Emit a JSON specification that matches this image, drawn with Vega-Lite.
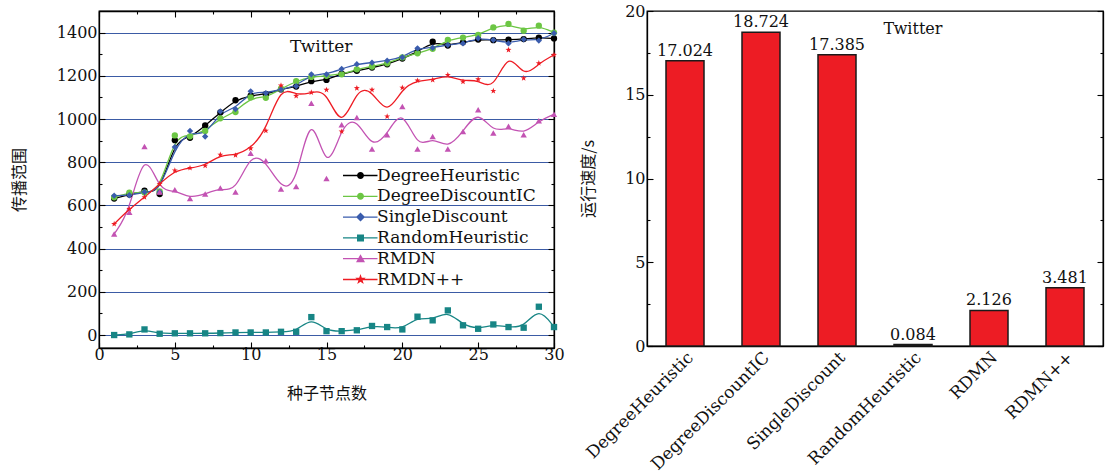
{
 "$schema": "https://vega.github.io/schema/vega-lite/v6.json",
 "padding": {"left": 10, "top": 2, "right": 5, "bottom": 2},
 "config": {
  "font": "DejaVu Serif",
  "view": {"stroke": "#000", "strokeWidth": 1.3},
  "axis": {"labelFont": "DejaVu Serif", "labelFontSize": 16, "labelColor": "#111", "domainColor": "#000", "domainWidth": 1.3, "tickColor": "#000", "tickWidth": 1.1, "titleFont": "Noto Sans CJK SC", "titleFontSize": 16, "titleFontWeight": "normal", "titleColor": "#111", "labelFlush": false},
  "concat": {"spacing": 14}
 },
 "datasets": {
  "lines": [
{"k":1,"s":"DegreeHeuristic","v":632},{"k":2,"s":"DegreeHeuristic","v":650},{"k":3,"s":"DegreeHeuristic","v":668},{"k":4,"s":"DegreeHeuristic","v":653},{"k":5,"s":"DegreeHeuristic","v":902},{"k":6,"s":"DegreeHeuristic","v":913},{"k":7,"s":"DegreeHeuristic","v":970},{"k":8,"s":"DegreeHeuristic","v":1030},{"k":9,"s":"DegreeHeuristic","v":1087},{"k":10,"s":"DegreeHeuristic","v":1108},{"k":11,"s":"DegreeHeuristic","v":1115},{"k":12,"s":"DegreeHeuristic","v":1137},{"k":13,"s":"DegreeHeuristic","v":1150},{"k":14,"s":"DegreeHeuristic","v":1175},{"k":15,"s":"DegreeHeuristic","v":1181},{"k":16,"s":"DegreeHeuristic","v":1210},{"k":17,"s":"DegreeHeuristic","v":1223},{"k":18,"s":"DegreeHeuristic","v":1238},{"k":19,"s":"DegreeHeuristic","v":1253},{"k":20,"s":"DegreeHeuristic","v":1280},{"k":21,"s":"DegreeHeuristic","v":1310},{"k":22,"s":"DegreeHeuristic","v":1358},{"k":23,"s":"DegreeHeuristic","v":1340},{"k":24,"s":"DegreeHeuristic","v":1355},{"k":25,"s":"DegreeHeuristic","v":1368},{"k":26,"s":"DegreeHeuristic","v":1365},{"k":27,"s":"DegreeHeuristic","v":1367},{"k":28,"s":"DegreeHeuristic","v":1370},{"k":29,"s":"DegreeHeuristic","v":1377},{"k":30,"s":"DegreeHeuristic","v":1373},
{"k":1,"s":"DegreeDiscountIC","v":638},{"k":2,"s":"DegreeDiscountIC","v":659},{"k":3,"s":"DegreeDiscountIC","v":660},{"k":4,"s":"DegreeDiscountIC","v":665},{"k":5,"s":"DegreeDiscountIC","v":924},{"k":6,"s":"DegreeDiscountIC","v":920},{"k":7,"s":"DegreeDiscountIC","v":945},{"k":8,"s":"DegreeDiscountIC","v":1003},{"k":9,"s":"DegreeDiscountIC","v":1032},{"k":10,"s":"DegreeDiscountIC","v":1100},{"k":11,"s":"DegreeDiscountIC","v":1098},{"k":12,"s":"DegreeDiscountIC","v":1140},{"k":13,"s":"DegreeDiscountIC","v":1175},{"k":14,"s":"DegreeDiscountIC","v":1195},{"k":15,"s":"DegreeDiscountIC","v":1200},{"k":16,"s":"DegreeDiscountIC","v":1207},{"k":17,"s":"DegreeDiscountIC","v":1230},{"k":18,"s":"DegreeDiscountIC","v":1243},{"k":19,"s":"DegreeDiscountIC","v":1258},{"k":20,"s":"DegreeDiscountIC","v":1285},{"k":21,"s":"DegreeDiscountIC","v":1304},{"k":22,"s":"DegreeDiscountIC","v":1325},{"k":23,"s":"DegreeDiscountIC","v":1366},{"k":24,"s":"DegreeDiscountIC","v":1377},{"k":25,"s":"DegreeDiscountIC","v":1389},{"k":26,"s":"DegreeDiscountIC","v":1424},{"k":27,"s":"DegreeDiscountIC","v":1440},{"k":28,"s":"DegreeDiscountIC","v":1409},{"k":29,"s":"DegreeDiscountIC","v":1432},{"k":30,"s":"DegreeDiscountIC","v":1400},
{"k":1,"s":"SingleDiscount","v":645},{"k":2,"s":"SingleDiscount","v":647},{"k":3,"s":"SingleDiscount","v":662},{"k":4,"s":"SingleDiscount","v":662},{"k":5,"s":"SingleDiscount","v":870},{"k":6,"s":"SingleDiscount","v":945},{"k":7,"s":"SingleDiscount","v":919},{"k":8,"s":"SingleDiscount","v":1035},{"k":9,"s":"SingleDiscount","v":1046},{"k":10,"s":"SingleDiscount","v":1128},{"k":11,"s":"SingleDiscount","v":1120},{"k":12,"s":"SingleDiscount","v":1137},{"k":13,"s":"SingleDiscount","v":1152},{"k":14,"s":"SingleDiscount","v":1207},{"k":15,"s":"SingleDiscount","v":1207},{"k":16,"s":"SingleDiscount","v":1232},{"k":17,"s":"SingleDiscount","v":1254},{"k":18,"s":"SingleDiscount","v":1261},{"k":19,"s":"SingleDiscount","v":1270},{"k":20,"s":"SingleDiscount","v":1286},{"k":21,"s":"SingleDiscount","v":1327},{"k":22,"s":"SingleDiscount","v":1330},{"k":23,"s":"SingleDiscount","v":1343},{"k":24,"s":"SingleDiscount","v":1350},{"k":25,"s":"SingleDiscount","v":1374},{"k":26,"s":"SingleDiscount","v":1366},{"k":27,"s":"SingleDiscount","v":1350},{"k":28,"s":"SingleDiscount","v":1369},{"k":29,"s":"SingleDiscount","v":1363},{"k":30,"s":"SingleDiscount","v":1397},
{"k":1,"s":"RandomHeuristic","v":0},{"k":2,"s":"RandomHeuristic","v":3},{"k":3,"s":"RandomHeuristic","v":26},{"k":4,"s":"RandomHeuristic","v":6},{"k":5,"s":"RandomHeuristic","v":8},{"k":6,"s":"RandomHeuristic","v":8},{"k":7,"s":"RandomHeuristic","v":8},{"k":8,"s":"RandomHeuristic","v":9},{"k":9,"s":"RandomHeuristic","v":12},{"k":10,"s":"RandomHeuristic","v":12},{"k":11,"s":"RandomHeuristic","v":12},{"k":12,"s":"RandomHeuristic","v":15},{"k":13,"s":"RandomHeuristic","v":15},{"k":14,"s":"RandomHeuristic","v":83},{"k":15,"s":"RandomHeuristic","v":18},{"k":16,"s":"RandomHeuristic","v":18},{"k":17,"s":"RandomHeuristic","v":22},{"k":18,"s":"RandomHeuristic","v":42},{"k":19,"s":"RandomHeuristic","v":37},{"k":20,"s":"RandomHeuristic","v":26},{"k":21,"s":"RandomHeuristic","v":85},{"k":22,"s":"RandomHeuristic","v":68},{"k":23,"s":"RandomHeuristic","v":114},{"k":24,"s":"RandomHeuristic","v":45},{"k":25,"s":"RandomHeuristic","v":29},{"k":26,"s":"RandomHeuristic","v":49},{"k":27,"s":"RandomHeuristic","v":37},{"k":28,"s":"RandomHeuristic","v":34},{"k":29,"s":"RandomHeuristic","v":131},{"k":30,"s":"RandomHeuristic","v":37},
{"k":1,"s":"RMDN","v":468},{"k":2,"s":"RMDN","v":568},{"k":3,"s":"RMDN","v":873},{"k":4,"s":"RMDN","v":662},{"k":5,"s":"RMDN","v":673},{"k":6,"s":"RMDN","v":632},{"k":7,"s":"RMDN","v":653},{"k":8,"s":"RMDN","v":681},{"k":9,"s":"RMDN","v":662},{"k":10,"s":"RMDN","v":842},{"k":11,"s":"RMDN","v":807},{"k":12,"s":"RMDN","v":676},{"k":13,"s":"RMDN","v":688},{"k":14,"s":"RMDN","v":1073},{"k":15,"s":"RMDN","v":725},{"k":16,"s":"RMDN","v":973},{"k":17,"s":"RMDN","v":1007},{"k":18,"s":"RMDN","v":861},{"k":19,"s":"RMDN","v":927},{"k":20,"s":"RMDN","v":1058},{"k":21,"s":"RMDN","v":861},{"k":22,"s":"RMDN","v":919},{"k":23,"s":"RMDN","v":861},{"k":24,"s":"RMDN","v":942},{"k":25,"s":"RMDN","v":1043},{"k":26,"s":"RMDN","v":935},{"k":27,"s":"RMDN","v":966},{"k":28,"s":"RMDN","v":927},{"k":29,"s":"RMDN","v":992},{"k":30,"s":"RMDN","v":1022},
{"k":1,"s":"RMDN++","v":514},{"k":2,"s":"RMDN++","v":583},{"k":3,"s":"RMDN++","v":638},{"k":4,"s":"RMDN++","v":699},{"k":5,"s":"RMDN++","v":762},{"k":6,"s":"RMDN++","v":773},{"k":7,"s":"RMDN++","v":784},{"k":8,"s":"RMDN++","v":835},{"k":9,"s":"RMDN++","v":832},{"k":10,"s":"RMDN++","v":864},{"k":11,"s":"RMDN++","v":946},{"k":12,"s":"RMDN++","v":1155},{"k":13,"s":"RMDN++","v":1107},{"k":14,"s":"RMDN++","v":1123},{"k":15,"s":"RMDN++","v":1135},{"k":16,"s":"RMDN++","v":942},{"k":17,"s":"RMDN++","v":1143},{"k":18,"s":"RMDN++","v":1135},{"k":19,"s":"RMDN++","v":1012},{"k":20,"s":"RMDN++","v":1145},{"k":21,"s":"RMDN++","v":1178},{"k":22,"s":"RMDN++","v":1181},{"k":23,"s":"RMDN++","v":1204},{"k":24,"s":"RMDN++","v":1173},{"k":25,"s":"RMDN++","v":1184},{"k":26,"s":"RMDN++","v":1130},{"k":27,"s":"RMDN++","v":1320},{"k":28,"s":"RMDN++","v":1189},{"k":29,"s":"RMDN++","v":1258},{"k":30,"s":"RMDN++","v":1297}
  ],
  "bars": [
   {"alg": "DegreeHeuristic", "t": 17.024},
   {"alg": "DegreeDiscountIC", "t": 18.724},
   {"alg": "SingleDiscount", "t": 17.385},
   {"alg": "RandomHeuristic", "t": 0.084},
   {"alg": "RDMN", "t": 2.126},
   {"alg": "RDMN++", "t": 3.481}
  ]
 },
 "hconcat": [
  {
   "width": 455,
   "height": 337,
   "data": {"name": "lines"},
   "layer": [
    {
     "mark": {"type": "line", "interpolate": "basis", "strokeWidth": 1.3},
     "encoding": {
      "x": {"field": "k", "type": "quantitative", "scale": {"domain": [0, 30], "nice": false, "zero": false},
            "axis": {"orient": "bottom", "title": "种子节点数", "format": "d", "values": [0,2.5,5,7.5,10,12.5,15,17.5,20,22.5,25,27.5,30], "labelExpr": "datum.value % 5 === 0 ? datum.label : ''", "tickSize": {"condition": {"test": "datum.value % 5 === 0", "value": -6}, "value": -3}, "labelPadding": 4, "titlePadding": 23, "grid": false}},
      "y": {"field": "v", "type": "quantitative", "scale": {"domain": [-60, 1500], "nice": false, "zero": false},
            "axis": {"orient": "left", "title": "传播范围", "format": "d", "values": [0,100,200,300,400,500,600,700,800,900,1000,1100,1200,1300,1400], "labelExpr": "datum.value % 200 === 0 ? datum.label : ''", "tickSize": {"condition": {"test": "datum.value % 200 === 0", "value": -6}, "value": -3}, "labelPadding": 8, "titlePadding": 29, "grid": true, "gridColor": "#3b5ba5", "gridWidth": 1.2, "gridOpacity": {"condition": {"test": "datum.value % 200 === 0", "value": 1}, "value": 0}}},
      "color": {"field": "s", "type": "nominal", "legend": null,
                "scale": {"domain": ["DegreeHeuristic", "DegreeDiscountIC", "SingleDiscount", "RandomHeuristic", "RMDN", "RMDN++"], "range": ["#000000", "#6cc644", "#3a5cad", "#178585", "#c353b3", "#ee1c24"]}}
     }
    },
    {
     "mark": {"type": "point", "filled": true, "opacity": 1},
     "encoding": {
      "x": {"field": "k", "type": "quantitative", "axis": {"orient": "top", "title": null, "labels": false, "values": [0,2.5,5,7.5,10,12.5,15,17.5,20,22.5,25,27.5,30], "tickSize": {"condition": {"test": "datum.value % 5 === 0", "value": -6}, "value": -3}, "grid": false}},
      "y": {"field": "v", "type": "quantitative", "axis": {"orient": "right", "title": null, "labels": false, "values": [0,100,200,300,400,500,600,700,800,900,1000,1100,1200,1300,1400], "tickSize": {"condition": {"test": "datum.value % 200 === 0", "value": -6}, "value": -3}, "grid": false}},
      "color": {"field": "s", "type": "nominal", "legend": null, "scale": {"domain": ["DegreeHeuristic", "DegreeDiscountIC", "SingleDiscount", "RandomHeuristic", "RMDN", "RMDN++"], "range": ["#000000", "#6cc644", "#3a5cad", "#178585", "#c353b3", "#ee1c24"]}},
      "shape": {"field": "s", "type": "nominal", "legend": null,
                "scale": {"domain": ["DegreeHeuristic", "DegreeDiscountIC", "SingleDiscount", "RandomHeuristic", "RMDN", "RMDN++"], "range": ["circle", "circle", "diamond", "square", "triangle-up", "M0,-1L0.235,-0.324L0.951,-0.309L0.38,0.124L0.588,0.809L0,0.4L-0.588,0.809L-0.38,0.124L-0.951,-0.309L-0.235,-0.324Z"]}},
      "size": {"field": "s", "type": "nominal", "legend": null,
               "scale": {"domain": ["DegreeHeuristic", "DegreeDiscountIC", "SingleDiscount", "RandomHeuristic", "RMDN", "RMDN++"], "range": [40, 40, 64, 38, 58, 130]}}
     }
    },
    {
     "transform": [{"filter": "false"}],
     "mark": {"type": "point", "filled": true, "opacity": 1},
     "encoding": {
      "color": {"field": "s", "type": "nominal",
                "scale": {"domain": ["DegreeHeuristic", "DegreeDiscountIC", "SingleDiscount", "RandomHeuristic", "RMDN", "RMDN++"], "range": ["#000000", "#6cc644", "#3a5cad", "#178585", "#c353b3", "#ee1c24"]},
                "legend": {"orient": "none", "legendX": 253, "legendY": 156, "title": null, "labelFont": "DejaVu Serif", "labelFontSize": 17, "labelColor": "#111", "symbolSize": 100, "labelOffset": 8, "rowPadding": 2.8, "padding": 0, "symbolOpacity": 1, "symbolStrokeWidth": 0}},
      "shape": {"field": "s", "type": "nominal",
                "scale": {"domain": ["DegreeHeuristic", "DegreeDiscountIC", "SingleDiscount", "RandomHeuristic", "RMDN", "RMDN++"], "range": [
                  "M-3.5,-0.13H3.4V0.13H-3.5ZM0.7,0A0.7,0.7,0,1,1,-0.7,0A0.7,0.7,0,1,1,0.7,0Z",
                  "M-3.5,-0.13H3.4V0.13H-3.5ZM0.7,0A0.7,0.7,0,1,1,-0.7,0A0.7,0.7,0,1,1,0.7,0Z",
                  "M-3.5,-0.13H3.4V0.13H-3.5ZM0,-0.9L0.9,0L0,0.9L-0.9,0Z",
                  "M-3.5,-0.13H3.4V0.13H-3.5ZM-0.7,-0.7H0.7V0.7H-0.7Z",
                  "M-3.5,-0.13H3.4V0.13H-3.5ZM0,-0.9L0.9,0.7H-0.9Z",
                  "M-3.5,-0.13H3.4V0.13H-3.5ZM0,-1.1L0.259,-0.356L1.046,-0.34L0.418,0.136L0.647,0.89L0,0.44L-0.647,0.89L-0.418,0.136L-1.046,-0.34L-0.259,-0.356Z"]}}
     }
    },
    {
     "data": {"values": [{"k": 14.65, "v": 1335, "lab": "Twitter"}]},
     "mark": {"type": "text", "fontSize": 17, "font": "DejaVu Serif", "color": "#111"},
     "encoding": {
      "x": {"field": "k", "type": "quantitative", "axis": null},
      "y": {"field": "v", "type": "quantitative", "axis": null},
      "text": {"field": "lab"}
     }
    }
   ],
   "resolve": {"axis": {"x": "independent", "y": "independent"}, "scale": {"color": "independent", "shape": "independent"}, "legend": {"color": "independent", "shape": "independent"}}
  },
  {
   "width": 456,
   "height": 335,
   "data": {"name": "bars"},
   "layer": [
    {
     "mark": {"type": "bar", "fill": "#ed1c24", "stroke": "#1a1a1a", "strokeWidth": 1.5},
     "encoding": {
      "x": {"field": "alg", "type": "nominal", "sort": null, "scale": {"paddingInner": 0.5, "paddingOuter": 0.25},
            "axis": {"orient": "bottom", "title": null, "labelAngle": -45, "labelFontSize": 17, "ticks": false, "labelPadding": 3}},
      "y": {"field": "t", "type": "quantitative", "scale": {"domain": [0, 20], "nice": false},
            "axis": {"orient": "left", "title": "运行速度/s", "format": "d", "values": [0,2.5,5,7.5,10,12.5,15,17.5,20], "labelExpr": "datum.value % 5 === 0 ? datum.label : ''", "tickSize": {"condition": {"test": "datum.value % 5 === 0", "value": -6}, "value": -3}, "labelPadding": 8, "titlePadding": 28, "grid": false}}
     }
    },
    {
     "mark": {"type": "text", "baseline": "bottom", "dy": -2, "fontSize": 16, "font": "DejaVu Serif", "color": "#111"},
     "encoding": {
      "x": {"field": "alg", "type": "nominal", "sort": null},
      "y": {"field": "t", "type": "quantitative", "axis": {"orient": "right", "title": null, "labels": false, "values": [0,2.5,5,7.5,10,12.5,15,17.5,20], "tickSize": {"condition": {"test": "datum.value % 5 === 0", "value": -6}, "value": -3}, "grid": false}},
      "text": {"field": "t", "type": "quantitative", "format": ".3f"}
     }
    },
    {
     "data": {"values": [{"alg": "RandomHeuristic", "t": 18.9, "lab": "Twitter"}]},
     "mark": {"type": "text", "fontSize": 16, "font": "DejaVu Serif", "color": "#111"},
     "encoding": {
      "x": {"field": "alg", "type": "nominal", "sort": null},
      "y": {"field": "t", "type": "quantitative", "axis": null},
      "text": {"field": "lab"}
     }
    }
   ],
   "resolve": {"axis": {"y": "independent"}}
  }
 ],
 "resolve": {"scale": {"color": "independent", "shape": "independent", "size": "independent"}, "legend": {"color": "independent", "shape": "independent", "size": "independent"}}
}
